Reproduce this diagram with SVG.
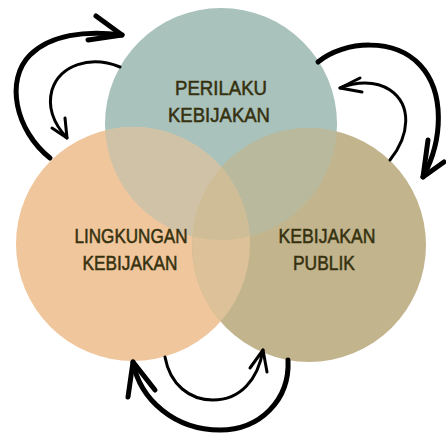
<svg xmlns="http://www.w3.org/2000/svg" width="446" height="437" viewBox="0 0 446 437">
  <style>
    .lbl { font-family: "Liberation Sans", Arial, sans-serif; font-size: 20px; fill: #35310f; stroke: #35310f; stroke-width: 0.5; text-anchor: middle; }
    .thick { fill: none; stroke: #000; stroke-width: 5; stroke-linecap: round; stroke-linejoin: round; }
    .thin { fill: none; stroke: #000; stroke-width: 3; stroke-linecap: round; stroke-linejoin: round; }
  </style>
  <defs>
    <clipPath id="cTop"><circle cx="221" cy="124" r="116"/></clipPath>
    <clipPath id="cLeft"><circle cx="133" cy="244" r="117"/></clipPath>
    <clipPath id="cRight"><circle cx="309" cy="245" r="117"/></clipPath>
  </defs>
  <rect width="446" height="437" fill="#ffffff"/>

  <!-- three overlapping circles -->
  <g id="circles">
    <circle cx="221" cy="124" r="116" fill="#a9c2bb"/>
    <circle cx="133" cy="244" r="117" fill="#f0c69c"/>
    <circle cx="309" cy="245" r="117" fill="#c2b48c"/>
    <!-- pairwise overlaps -->
    <circle cx="221" cy="124" r="116" fill="#d0c2a7" clip-path="url(#cLeft)"/>
    <circle cx="221" cy="124" r="116" fill="#b9ba9d" clip-path="url(#cRight)"/>
    <circle cx="133" cy="244" r="117" fill="#ddc198" clip-path="url(#cRight)"/>
    <!-- centre overlap -->
    <g clip-path="url(#cRight)">
      <circle cx="221" cy="124" r="116" fill="#cfbd98" clip-path="url(#cLeft)"/>
    </g>
  </g>

  <g id="node-perilaku">
    <text class="lbl" x="221" y="95" textLength="92" lengthAdjust="spacingAndGlyphs">PERILAKU</text>
    <text class="lbl" x="219" y="122" textLength="102" lengthAdjust="spacingAndGlyphs">KEBIJAKAN</text>
  </g>
  <g id="node-lingkungan">
    <text class="lbl" x="131" y="243" textLength="113" lengthAdjust="spacingAndGlyphs">LINGKUNGAN</text>
    <text class="lbl" x="130" y="270" textLength="95" lengthAdjust="spacingAndGlyphs">KEBIJAKAN</text>
  </g>
  <g id="node-publik">
    <text class="lbl" x="327" y="243" textLength="97" lengthAdjust="spacingAndGlyphs">KEBIJAKAN</text>
    <text class="lbl" x="324" y="270" textLength="62" lengthAdjust="spacingAndGlyphs">PUBLIK</text>
  </g>

  <g id="connectors">
    <!-- top left pair -->
    <path class="thick" d="M50,158 C15,130 5,80 30,55 C50,35 85,30 122,35"/>
    <path class="thick" d="M96,16 L122,35 L88,40"/>
    <path class="thin" d="M120,67 C90,55 60,65 52,90 C47,108 55,125 67,138"/>
    <path class="thin" d="M52,128 L67,138 L65,118"/>
    <!-- top right pair -->
    <path class="thick" d="M318,62 C345,40 395,38 420,65 C445,92 443,140 423,177"/>
    <path class="thick" d="M428,140 L423,177 L444,162"/>
    <path class="thin" d="M390,160 C410,135 412,105 390,90 C375,80 355,82 340,88"/>
    <path class="thin" d="M360,78 L340,88 L362,92"/>
    <!-- bottom pair -->
    <path class="thin" d="M165,357 C170,385 190,400 213,400 C240,400 258,380 263,350"/>
    <path class="thin" d="M250,368 L263,350 L267,372"/>
    <path class="thick" d="M288,360 C290,400 260,430 220,430 C175,430 140,400 133,362"/>
    <path class="thick" d="M128,397 L133,362 L155,390"/>
  </g>
</svg>
